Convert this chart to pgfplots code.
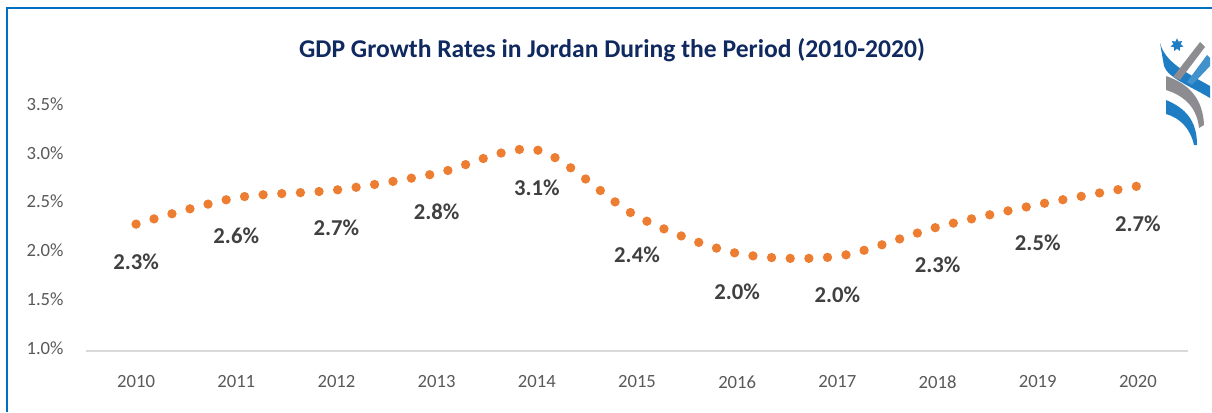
\documentclass[border=0pt]{standalone}
\usepackage{fontspec}
\setmainfont{Carlito}
\usepackage{pgfplots}
\pgfplotsset{compat=1.18}
\usepackage{pgfplotstable}
\usetikzlibrary{shapes.geometric}

\definecolor{gdporange}{RGB}{237,125,49}
\definecolor{titlenavy}{RGB}{16,42,96}
\definecolor{ticktext}{RGB}{89,89,89}
\definecolor{labeltext}{RGB}{64,64,64}
\definecolor{axisgray}{RGB}{217,217,217}
\definecolor{frameblue}{RGB}{0,112,192}
\definecolor{logoblue}{RGB}{30,125,195}
\definecolor{logogray}{RGB}{140,140,145}

% GDP growth (%), 2010-2020; label = printed value
\pgfplotstableread{
idx value label
0  2.30 2.3
1  2.57 2.6
2  2.65 2.7
3  2.82 2.8
4  3.06 3.1
5  2.38 2.4
6  2.00 2.0
7  1.97 2.0
8  2.27 2.3
9  2.50 2.5
10 2.69 2.7
}\gdpdata

\begin{document}
\begin{tikzpicture}
\path[use as bounding box] (0,0) rectangle (909pt,309pt);

% frame (only left and top edges visible)
\draw[frameblue, line width=1.5pt] (5.25pt,0) |- (909pt,303pt);

\node[anchor=base, text=titlenavy, font=\bfseries\fontsize{19.2}{22}\selectfont]
  at (459pt,266pt) {GDP Growth Rates in Jordan During the Period (2010-2020)};

\begin{axis}[
  at={(64.5pt,45.75pt)}, anchor=south west,
  scale only axis, width=826.5pt, height=183pt,
  xmin=-0.5, xmax=10.5, ymin=1, ymax=3.5,
  axis line style={draw=none},
  major tick length=0pt,
  xtick={0,...,10},
  xticklabels={2010,2011,2012,2013,2014,2015,2016,2017,2018,2019,2020},
  ytick={1,1.5,2,2.5,3,3.5},
  /pgf/number format/assume math mode=true,
  yticklabel={\pgfmathprintnumber[fixed,fixed zerofill,precision=1]{\tick}\%},
  ticklabel style={font=\fontsize{14}{16}\selectfont, text=ticktext},
  yticklabel style={xshift=-13.3pt, yshift=2.2pt},
  xticklabel style={yshift=-15pt},
  clip=false,
  point meta=explicit symbolic,
  nodes near coords={\pgfplotspointmeta\%},
  nodes near coords style={font=\bfseries\fontsize{17}{19}\selectfont,
    text=labeltext, anchor=center, yshift=-28.5pt},
]
\draw[axisgray, line width=1.1pt] (axis cs:-0.5,1) -- (axis cs:10.5,1);
\addplot[gdporange, line width=7pt, line cap=round,
  dash pattern=on 0pt off 14pt, smooth]
  table[x=idx, y=value, meta=label] {\gdpdata};
\end{axis}

% logo, in pixel units from the top left corner
\begin{scope}[x=0.75pt, y=-0.75pt, shift={(0pt,309pt)}]
  \node[star, star points=7, star point ratio=1.8, fill=logoblue,
    minimum size=10pt, inner sep=0pt] at (1177,45) {};
  \fill[logoblue] (1160,43) .. controls (1165,62) and (1185,72) .. (1210,86)
    -- (1210,98) .. controls (1190,86) and (1168,78) .. (1164,66) -- cycle;
  \fill[logogray] (1200,42) -- (1205,47) -- (1180,80) -- (1173,77) -- cycle;
  \fill[logoblue!85] (1207,55) -- (1210,58) -- (1210,66) -- (1192,85)
    -- (1187,82) -- cycle;
  \fill[logogray] (1166,76) .. controls (1190,84) and (1203,100) .. (1204,125)
    -- (1199,128) .. controls (1197,108) and (1185,96) .. (1166,90) -- cycle;
  \fill[logoblue] (1166,100) .. controls (1185,108) and (1197,120) .. (1197,145)
    -- (1194,145) .. controls (1190,128) and (1180,118) .. (1166,114) -- cycle;
\end{scope}
\end{tikzpicture}
\end{document}
